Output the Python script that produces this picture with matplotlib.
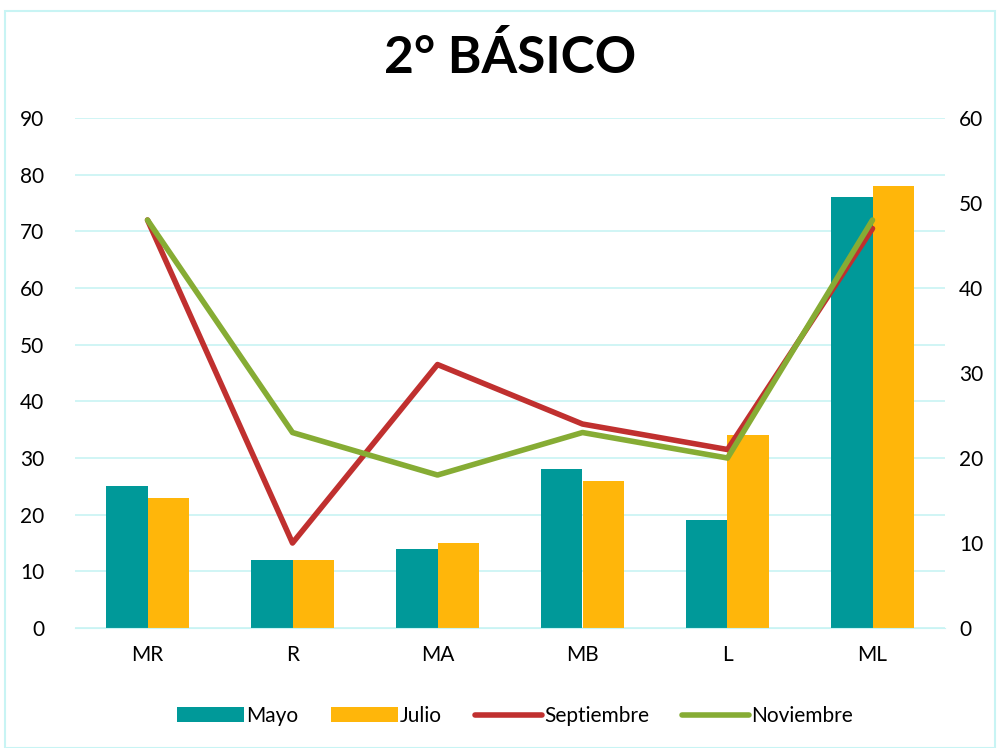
import matplotlib
matplotlib.use("Agg")
import matplotlib.pyplot as plt
import numpy as np
from matplotlib.patches import Rectangle

categories = ["MR", "R", "MA", "MB", "L", "ML"]
mayo = [25, 12, 14, 28, 19, 76]
julio = [23, 12, 15, 26, 34, 78]
septiembre = [48, 10, 31, 24, 21, 47]
noviembre = [48, 23, 18, 23, 20, 48]

plt.rcParams['font.family'] = ['Lato', 'DejaVu Sans']

fig = plt.figure(figsize=(10, 7.48), dpi=100)
ax = fig.add_axes([0.075, 0.1604, 0.87, 0.6818])
ax2 = ax.twinx()

x = np.arange(len(categories))
w = 0.283
grid_c = "#C8F4F4"
b1 = ax.bar(x - w/2, mayo, w, color="#009999", label="Mayo", zorder=2)
b2 = ax.bar(x + w/2, julio, w, color="#FFB60A", label="Julio", zorder=2)
l1, = ax2.plot(x, septiembre, color="#C0302F", lw=4, label="Septiembre", solid_capstyle="round")
l2, = ax2.plot(x, noviembre, color="#86AC34", lw=4, label="Noviembre", solid_capstyle="round")

ax.set_xlim(-0.5, 5.5)
ax.set_ylim(0, 90)
ax.set_yticks(range(0, 91, 10))
ax2.set_ylim(0, 60)
ax2.set_yticks(range(0, 61, 10))
ax.set_xticks(x)
ax.set_xticklabels(categories)
ax.yaxis.grid(True, color=grid_c, lw=1.2, zorder=0)
ax.set_axisbelow(True)
for a in (ax, ax2):
    for s in a.spines.values():
        s.set_visible(False)
    a.tick_params(length=0, labelsize=15)
ax.tick_params(axis='y', pad=22)
ax2.tick_params(axis='y', pad=10)
ax.spines['bottom'].set_visible(True)
ax.spines['bottom'].set_color(grid_c)
ax.tick_params(axis='x', pad=12)

fig.text(0.51, 0.922, "2° BÁSICO", ha="center", va="center", fontsize=37, fontweight="bold")

fig.legend([b1, b2, l1, l2], ["Mayo", "Julio", "Septiembre", "Noviembre"],
           loc="center", bbox_to_anchor=(0.515, 0.043), ncol=4, frameon=False,
           fontsize=15, handlelength=3.2, handletextpad=0.1, columnspacing=1.6)

fig.patches.append(Rectangle((0.005, 0.0), 0.99, 0.985, transform=fig.transFigure,
                             fill=False, edgecolor=grid_c, lw=1.5))

fig.savefig("out.png", dpi=100)
